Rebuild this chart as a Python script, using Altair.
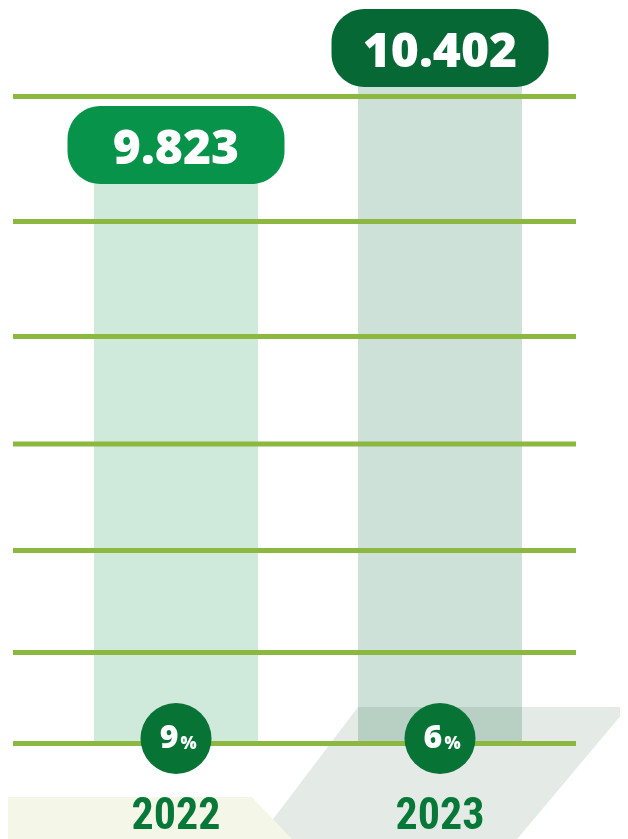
import altair as alt
import pandas as pd

# ---- data -------------------------------------------------------------
years = ["2022", "2023"]
values = [9.823, 10.402]
value_labels = ["9.823", "10.402"]
growth_pct = ["9", "6"]
baseline = 6.25
grid_levels = [10.113, 9.367, 8.680, 8.038, 7.402, 6.794, 6.25]

# decorative backdrop shapes (fractions of the plot area)
cream_y = [0.0505, -0.02]
cream_x = [-0.02, -0.02]
cream_x2 = [0.3987, 0.4897]
gray_y = [0.1588, -0.02]
gray_x = [0.5719, 0.3879]
gray_x2 = [1.0131, 0.8092]

# ---- layout -----------------------------------------------------------
W, H = 612, 831
Y_DOMAIN = [5.680, 10.641]

df = pd.DataFrame({"year": years, "value": values, "label": value_labels,
                   "pct": growth_pct, "base": baseline})
grid_df = pd.DataFrame({"level": grid_levels})
cream_df = pd.DataFrame({"fy": cream_y, "fx": cream_x, "fx2": cream_x2})
gray_df = pd.DataFrame({"fy": gray_y, "fx": gray_x, "fx2": gray_x2})

xs = alt.Scale(domain=years, range=[0, 600], paddingInner=0.3788, paddingOuter=0.3258)
ys = alt.Scale(domain=Y_DOMAIN, zero=False, nice=False)
X = alt.X("year:N", scale=xs, axis=None)
Yv = alt.Y("value:Q", scale=ys, axis=None)
Yb = alt.Y("base:Q", scale=ys, axis=None)

fx_s = alt.Scale(domain=[0, 1], nice=False, zero=False)
fy_s = alt.Scale(domain=[0, 1], nice=False, zero=False)

gray = alt.Chart(gray_df).mark_area(orient="horizontal", color="#E4EBE7").encode(
    y=alt.Y("fy:Q", scale=fy_s, axis=None),
    x=alt.X("fx:Q", scale=fx_s, axis=None), x2="fx2:Q")
cream = alt.Chart(cream_df).mark_area(orient="horizontal", color="#F4F7E8").encode(
    y=alt.Y("fy:Q", scale=fy_s, axis=None),
    x=alt.X("fx:Q", scale=fx_s, axis=None), x2="fx2:Q")
deco = alt.layer(gray, cream)

bars = alt.Chart(df).mark_bar(blend="multiply").encode(
    x=X, y=Yv, y2=alt.Y2("base:Q"),
    color=alt.Color("year:N", scale=alt.Scale(domain=years, range=["#CFE9DB", "#CEE1D9"]), legend=None))

grid = alt.Chart(grid_df).mark_rule(color="#8CB83F", strokeWidth=5).encode(
    y=alt.Y("level:Q", scale=ys, axis=None), x=alt.value(5), x2=alt.value(568))

pill_path = ("M-0.6959,-0.3594L0.6959,-0.3594A0.3041,0.3041,0,0,1,1,-0.0553"
             "L1,0.0553A0.3041,0.3041,0,0,1,0.6959,0.3594L-0.6959,0.3594"
             "A0.3041,0.3041,0,0,1,-1,0.0553L-1,-0.0553A0.3041,0.3041,0,0,1,-0.6959,-0.3594Z")
pills = alt.Chart(df).mark_point(shape=pill_path, filled=True, size=217 ** 2, opacity=1, strokeWidth=0).encode(
    x=X, y=Yv,
    color=alt.Color("year:N", scale=alt.Scale(domain=years, range=["#07934A", "#066935"]), legend=None))

vtext = alt.Chart(df).mark_text(font="Open Sans", fontWeight=800, fontSize=48, color="white",
                                baseline="alphabetic", dy=19).encode(x=X, y=Yv, text="label:N")

circles = alt.Chart(df).mark_circle(size=71 ** 2, opacity=1, color="#077436").encode(
    x=X, y=Yb, yOffset=alt.value(-5))

pct_big = alt.Chart(df).mark_text(font="Open Sans", fontWeight=800, fontSize=32, color="white",
                                  baseline="alphabetic", dx=-7, dy=4.5).encode(x=X, y=Yb, text="pct:N")
pct_small = alt.Chart(df).mark_text(font="Open Sans", fontWeight=800, fontSize=17, color="white",
                                    baseline="alphabetic", dx=12.5, dy=5.5).encode(x=X, y=Yb, text=alt.value("%"))

year_text = alt.Chart(df).mark_text(font="Roboto Condensed, Liberation Sans Narrow, Roboto",
                                    fontWeight="bold", fontSize=44, color="#077838",
                                    baseline="alphabetic", dy=85.5).encode(x=X, y=Yb, text="year:N")

main = alt.layer(bars, grid, pills, vtext, circles, pct_big, pct_small, year_text).resolve_scale(color="independent")

chart = alt.layer(deco, main).resolve_scale(x="independent", y="independent").properties(
    width=W, height=H, padding=0, background="white", autosize=alt.AutoSizeParams(type="none")
).configure_view(strokeWidth=0, stroke="transparent")

chart.save("out.html", embed_options={"renderer": "svg", "actions": False})
